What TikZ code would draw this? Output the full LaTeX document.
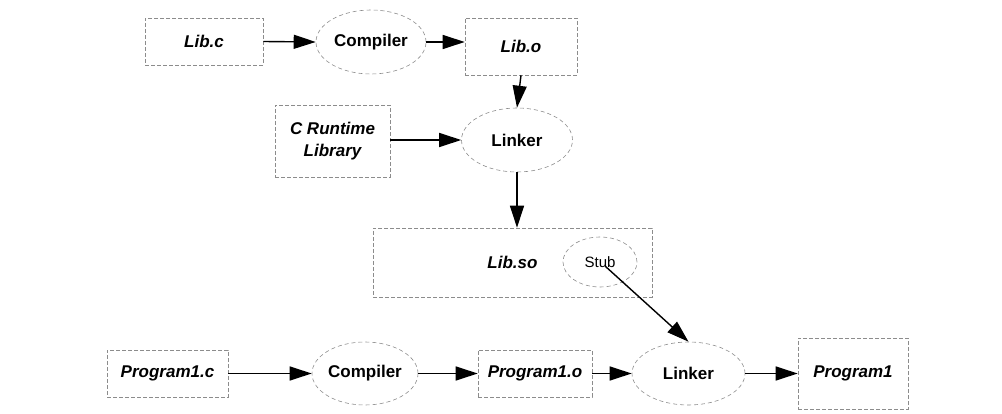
\documentclass[tikz,border=0pt]{standalone}
\usepackage{fontspec}
\setmainfont{Liberation Sans}
\usetikzlibrary{arrows.meta,shapes.geometric}
\begin{document}
\begin{tikzpicture}[x=1pt,y=-1pt,
  filebox/.style={draw=black!45, line width=0.6pt, dash pattern=on 4pt off 2pt, rectangle, inner sep=0pt, font=\fontsize{17}{22}\selectfont\bfseries\itshape, align=center},
  tool/.style={draw=black!45, line width=0.6pt, dash pattern=on 4pt off 3pt, ellipse, inner sep=0pt, font=\fontsize{17}{22}\selectfont\bfseries},
  flow/.style={line width=1.4pt, -{Triangle[length=22pt,width=14pt]}}
]
\useasboundingbox (0,0) rectangle (1002,414);
% top row
\node[filebox, minimum width=118pt, minimum height=47pt] (libc) at (204,41.5) {Lib.c};
\node[tool, minimum width=110pt, minimum height=64pt] (comp1) at (371,42) {Compiler};
\node[filebox, minimum width=112pt, minimum height=57pt] (libo) at (521,46.5) {Lib.o};
% middle
\node[filebox, minimum width=115pt, minimum height=72pt] (crl) at (332.5,141) {C Runtime\\Library};
\node[tool, minimum width=111pt, minimum height=64pt] (link1) at (517,140) {Linker};
\node[filebox, minimum width=279pt, minimum height=69pt] (libso) at (512.5,262.5) {Lib.so};
\node[tool, font=\fontsize{15}{18}\selectfont, minimum width=74pt, minimum height=50pt] (stub) at (600,262) {Stub};
% bottom row
\node[filebox, minimum width=121pt, minimum height=47pt] (p1c) at (167.5,373.5) {Program1.c};
\node[tool, minimum width=106pt, minimum height=63pt] (comp2) at (365,373.5) {Compiler};
\node[filebox, minimum width=114pt, minimum height=47pt] (p1o) at (535,373.5) {Program1.o};
\node[tool, minimum width=113pt, minimum height=63pt] (link2) at (688.5,373.5) {Linker};
\node[filebox, minimum width=110pt, minimum height=71pt] (p1) at (853,373.5) {Program1};
% connectors
\draw[flow] (libc.east) -- (comp1.west);
\draw[flow] (comp1.east) -- (comp1.east -| libo.west);
\draw[flow] (libo.south) -- (link1.north);
\draw[flow] (crl.east |- link1.west) -- (link1.west);
\draw[flow] (link1.south) -- (link1.south |- libso.north);
\draw[flow] (stub.center) ++(5,4) -- (link2.north);
\draw[flow] (p1c) -- (comp2);
\draw[flow] (comp2) -- (p1o);
\draw[flow] (p1o) -- (link2);
\draw[flow] (link2) -- (p1);
\end{tikzpicture}
\end{document}
